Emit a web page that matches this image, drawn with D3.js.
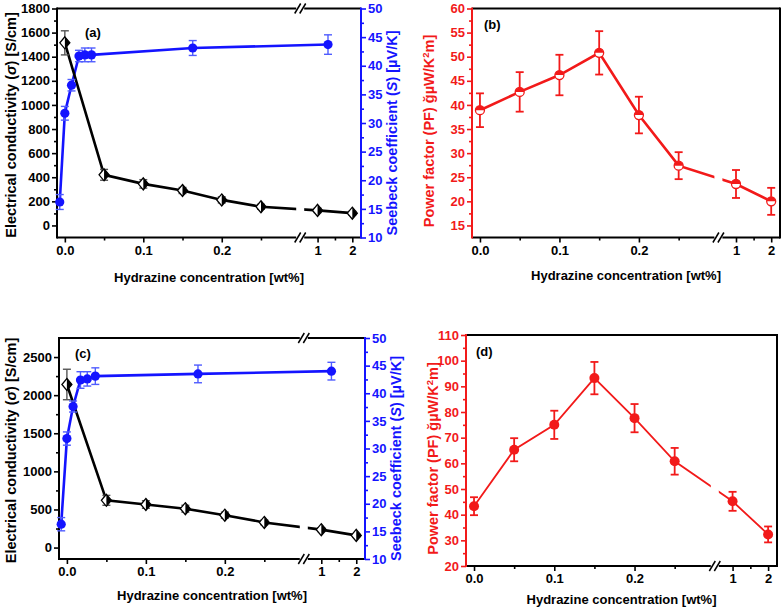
<!DOCTYPE html>
<html><head><meta charset="utf-8">
<script src="https://cdn.jsdelivr.net/npm/d3@7"></script>
<style>
body{margin:0;background:#fff}
svg{display:block}
text{font-family:"Liberation Sans",Arial,sans-serif;font-weight:bold}
</style>
</head><body>
<svg id="chart" width="783" height="608"></svg>
<script>
// ---------- data ----------
const xTickVals = [0, 0.1, 0.2, 1, 2];
const xTickLabels = ["0.0", "0.1", "0.2", "1", "2"];
const xMinorVals = [0.05, 0.15, 0.25, 1.5];

const conc = [0, 0.05, 0.1, 0.15, 0.2, 0.25, 1, 2];

// panel (a)
const sigmaA = [1515, 420, 345, 290, 212, 155, 125, 102];
const sigmaErrA = [100, 45, 35, 25, 25, 20, 18, 15];
const seebeckConcA = [-0.0065, 0, 0.0085, 0.018, 0.0255, 0.034, 0.163, 1.3];
const seebeckA = [16.2, 31.7, 36.6, 41.7, 41.9, 41.9, 43.1, 43.7];
const seebeckErrA = [1.3, 1.2, 1.0, 1.0, 1.2, 1.2, 1.3, 1.7];

// panel (b)
const pfB = [38.9, 42.7, 46.2, 50.8, 37.9, 27.4, 23.6, 20.0];
const pfErrB = [3.5, 4.1, 4.2, 4.5, 3.8, 2.8, 2.9, 2.8];

// panel (c)
const sigmaC = [2140, 620, 565, 510, 425, 330, 235, 160];
const sigmaErrC = [200, 65, 50, 45, 40, 30, 25, 20];
const seebeckConcC = [-0.0072, 0, 0.0078, 0.0172, 0.0258, 0.036, 0.166, 1.29];
const seebeckC = [16.3, 31.8, 37.6, 42.4, 42.6, 43.1, 43.5, 44.0];
const seebeckErrC = [1.2, 1.2, 1.0, 1.5, 1.3, 1.5, 1.6, 1.6];

// panel (d)
const pfD = [43.3, 65.3, 75.0, 93.2, 77.6, 60.8, 45.2, 32.3];
const pfErrD = [3.5, 4.5, 5.5, 6.3, 5.5, 5.2, 3.7, 3.1];

// axis ticks
const sigmaTicksA = d3.range(0, 1801, 200);
const sigmaMinorA = d3.range(100, 1800, 200);
const sigmaTicksC = d3.range(0, 2501, 500);
const sigmaMinorC = d3.range(250, 2750, 500);
const seebeckTicks = d3.range(10, 51, 5);
const seebeckMinor = d3.range(12.5, 50, 5);
const pfTicksB = d3.range(15, 61, 5);
const pfMinorB = d3.range(17.5, 60, 5);
const pfTicksD = d3.range(20, 111, 10);
const pfMinorD = d3.range(25, 110, 10);

// ---------- style ----------
const BLUE = "#1414ff", BLUE_ERR = "#4f5cff", RED = "#f21a1a", BLACK = "#000";
const svg = d3.select("#chart");
const fmt = d => String(d);

const panels = {
  a: {left: 57, right: 361, top: 8.5, bottom: 237.5, titleDy: 44},
  b: {left: 472, right: 780, top: 8.5, bottom: 237.5, titleDy: 42},
  c: {left: 59, right: 365, top: 338, bottom: 559, titleDy: 41},
  d: {left: 466, right: 777, top: 335, bottom: 566, titleDy: 37.5}
};

function makeX(p) {
  const brk = p.left + 0.8 * (p.right - p.left);
  p.brk = brk;
  return d3.scaleLinear().domain([-0.01, 0.3, 0.5, 2.25]).range([p.left, brk, brk, p.right]);
}

function styleAxis(g, color, fs) {
  g.select(".domain").remove();
  g.selectAll("line").attr("stroke", color).attr("stroke-width", 1.6);
  g.selectAll("text").attr("fill", color).style("font-size", fs + "px")
    .style("font-family", '"Liberation Sans", Arial, sans-serif').style("font-weight", "bold");
}

function drawBreak(g, x, y, color) {
  g.append("rect").attr("x", x - 4).attr("y", y - 2).attr("width", 8).attr("height", 4).attr("fill", "#fff");
  [-2.5, 2.5].forEach(o => {
    g.append("line").attr("x1", x + o - 3).attr("y1", y + 5).attr("x2", x + o + 3).attr("y2", y - 5)
      .attr("stroke", color).attr("stroke-width", 1.5);
  });
}

function frame(p, x, opts) {
  const g = svg.append("g");
  const xa = g.append("g").attr("transform", `translate(0,${p.bottom})`)
    .call(d3.axisBottom(x).tickValues(xTickVals).tickFormat((d, i) => xTickLabels[i]).tickSize(5).tickPadding(3));
  styleAxis(xa, BLACK, 13);
  const xm = g.append("g").attr("transform", `translate(0,${p.bottom})`)
    .call(d3.axisBottom(x).tickValues(xMinorVals).tickFormat("").tickSize(3));
  styleAxis(xm, BLACK, 13);
  const la = g.append("g").attr("transform", `translate(${p.left},0)`)
    .call(d3.axisLeft(opts.yL).tickValues(opts.ticksL).tickFormat(fmt).tickSize(5).tickPadding(2));
  styleAxis(la, opts.colorL, 13);
  const lm = g.append("g").attr("transform", `translate(${p.left},0)`)
    .call(d3.axisLeft(opts.yL).tickValues(opts.minorL).tickFormat("").tickSize(3));
  styleAxis(lm, opts.colorL, 13);
  if (opts.yR) {
    const ra = g.append("g").attr("transform", `translate(${p.right},0)`)
      .call(d3.axisRight(opts.yR).tickValues(seebeckTicks).tickFormat(fmt).tickSize(5).tickPadding(2));
    styleAxis(ra, BLUE, 13);
    const rm = g.append("g").attr("transform", `translate(${p.right},0)`)
      .call(d3.axisRight(opts.yR).tickValues(seebeckMinor).tickFormat("").tickSize(3));
    styleAxis(rm, BLUE, 13);
  }
  g.append("line").attr("x1", p.left).attr("x2", p.right).attr("y1", p.bottom).attr("y2", p.bottom)
    .attr("stroke", BLACK).attr("stroke-width", 2);
  g.append("line").attr("x1", p.left).attr("x2", p.right).attr("y1", p.top).attr("y2", p.top)
    .attr("stroke", BLACK).attr("stroke-width", 2);
  g.append("line").attr("x1", p.left).attr("x2", p.left).attr("y1", p.top - 1).attr("y2", p.bottom + 1)
    .attr("stroke", opts.colorL).attr("stroke-width", 2);
  g.append("line").attr("x1", p.right).attr("x2", p.right).attr("y1", p.top - 1).attr("y2", p.bottom + 1)
    .attr("stroke", opts.yR ? BLUE : BLACK).attr("stroke-width", 2);
  drawBreak(g, p.brk, p.bottom, BLACK);
  if (opts.topBreak) drawBreak(g, p.brk, p.top, BLACK);
}

function clipFor(id, p) {
  const cp = svg.append("clipPath").attr("id", id);
  cp.append("rect").attr("x", 0).attr("y", 0).attr("width", p.brk - 4).attr("height", 608);
  cp.append("rect").attr("x", p.brk + 4).attr("y", 0).attr("width", 783 - p.brk - 4).attr("height", 608);
  return `url(#${id})`;
}

function errorBars(g, xs, ys, errs, x, y, color, w, cap) {
  xs.forEach((xv, i) => {
    const cx = x(xv), y1 = y(ys[i] - errs[i]), y2 = y(ys[i] + errs[i]);
    g.append("line").attr("x1", cx).attr("x2", cx).attr("y1", y1).attr("y2", y2).attr("stroke", color).attr("stroke-width", w);
    [y1, y2].forEach(yy => g.append("line").attr("x1", cx - cap).attr("x2", cx + cap).attr("y1", yy).attr("y2", yy)
      .attr("stroke", color).attr("stroke-width", w));
  });
}

function yTitle(x, y, parts, color, fs) {
  const t = svg.append("text").attr("transform", `translate(${x},${y}) rotate(-90)`)
    .attr("text-anchor", "middle").attr("fill", color).style("font-size", fs + "px");
  parts.forEach(pt => {
    const s = t.append("tspan").text(pt.t);
    if (pt.it) s.style("font-style", "italic");
    if (pt.sup) s.attr("dy", -5).style("font-size", (fs - 5) + "px");
    if (pt.down) s.attr("dy", 5);
  });
}

function xTitle(p) {
  svg.append("text").attr("x", (p.left + p.right) / 2).attr("y", p.bottom + p.titleDy).attr("text-anchor", "middle")
    .style("font-size", "13px").attr("fill", BLACK).text("Hydrazine concentration [wt%]");
}

function panelLabel(x, y, s) {
  svg.append("text").attr("x", x).attr("y", y).style("font-size", "13px").attr("fill", BLACK).text(s);
}

function drawSigmaPanel(p, key, sig, sigErr, sConc, see, seeErr, sigDomain, ticks, minor, label, lpos) {
  const x = makeX(p);
  const yL = d3.scaleLinear().domain(sigDomain).range([p.bottom, p.top]);
  const yR = d3.scaleLinear().domain([10, 50]).range([p.bottom, p.top]);
  frame(p, x, {yL, ticksL: ticks, minorL: minor, colorL: BLACK, yR, topBreak: true});
  const g = svg.append("g");
  g.append("path").datum(sConc.map((c, i) => [c, see[i]]))
    .attr("d", d3.line().x(d => x(d[0])).y(d => yR(d[1])))
    .attr("fill", "none").attr("stroke", BLUE).attr("stroke-width", 2.6);
  g.append("path").datum(conc.map((c, i) => [c, sig[i]]))
    .attr("d", d3.line().x(d => x(d[0])).y(d => yL(d[1])))
    .attr("fill", "none").attr("stroke", BLACK).attr("stroke-width", 2.6)
    .attr("clip-path", clipFor("clip" + key, p));
  errorBars(g, conc, sig, sigErr, x, yL, "#555", 1.4, 4);
  errorBars(g, sConc, see, seeErr, x, yR, BLUE_ERR, 1.4, 4);
  conc.forEach((c, i) => {
    const cx = x(c), cy = yL(sig[i]);
    g.append("path").attr("d", `M${cx},${cy - 6}L${cx + 5},${cy}L${cx},${cy + 6}L${cx - 5},${cy}Z`)
      .attr("fill", "#fff").attr("stroke", BLACK).attr("stroke-width", 1.3);
    g.append("path").attr("d", `M${cx},${cy - 6}L${cx + 5},${cy}L${cx},${cy + 6}Z`).attr("fill", BLACK);
  });
  g.selectAll(null).data(sConc).enter().append("circle")
    .attr("cx", d => x(d)).attr("cy", (d, i) => yR(see[i])).attr("r", 4.6).attr("fill", BLUE);
  panelLabel(lpos[0], lpos[1], label);
  xTitle(p);
  yTitle(16, (p.top + p.bottom) / 2 + 2, [{t: "Electrical conductivity ("}, {t: "σ", it: true}, {t: ") [S/cm]"}], BLACK, 14.5);
  yTitle(p.right + 36, (p.top + p.bottom) / 2 + 10, [{t: "Seebeck coefficient ("}, {t: "S", it: true}, {t: ") [µV/K]"}], BLUE, 14.5);
}

function drawPFPanel(p, key, pf, pfErr, domain, ticks, minor, label, lpos, style) {
  const x = makeX(p);
  const y = d3.scaleLinear().domain(domain).range([p.bottom, p.top]);
  frame(p, x, {yL: y, ticksL: ticks, minorL: minor, colorL: RED});
  const g = svg.append("g");
  g.append("path").datum(conc.map((c, i) => [c, pf[i]]))
    .attr("d", d3.line().x(d => x(d[0])).y(d => y(d[1])))
    .attr("fill", "none").attr("stroke", RED).attr("stroke-width", style.lw)
    .attr("clip-path", clipFor("clip" + key, p));
  errorBars(g, conc, pf, pfErr, x, y, RED, 1.8, 4);
  conc.forEach((c, i) => {
    const cx = x(c), cy = y(pf[i]), r = style.r;
    if (style.half) {
      g.append("circle").attr("cx", cx).attr("cy", cy).attr("r", r).attr("fill", "#fff").attr("stroke", RED).attr("stroke-width", 1.3);
      g.append("path").attr("d", `M${cx - r},${cy}A${r},${r} 0 0 1 ${cx + r},${cy}Z`).attr("fill", RED);
    } else {
      g.append("circle").attr("cx", cx).attr("cy", cy).attr("r", r).attr("fill", RED);
    }
  });
  panelLabel(lpos[0], lpos[1], label);
  xTitle(p);
  yTitle(style.titleX, (p.top + p.bottom) / 2 + 8,
    [{t: "Power factor (PF) ğµW/K"}, {t: "2", sup: true}, {t: "m]", down: true}], RED, 14.5);
}

drawSigmaPanel(panels.a, "a", sigmaA, sigmaErrA, seebeckConcA, seebeckA, seebeckErrA, [-100, 1800], sigmaTicksA, sigmaMinorA, "(a)", [85, 37]);
drawPFPanel(panels.b, "b", pfB, pfErrB, [12.5, 60], pfTicksB, pfMinorB, "(b)", [484, 29], {lw: 2.6, r: 4.5, half: true, titleX: 434});
drawSigmaPanel(panels.c, "c", sigmaC, sigmaErrC, seebeckConcC, seebeckC, seebeckErrC, [-150, 2750], sigmaTicksC, sigmaMinorC, "(c)", [75, 358]);
drawPFPanel(panels.d, "d", pfD, pfErrD, [20, 110], pfTicksD, pfMinorD, "(d)", [476, 356], {lw: 1.8, r: 5, half: false, titleX: 438});
</script>
</body></html>
